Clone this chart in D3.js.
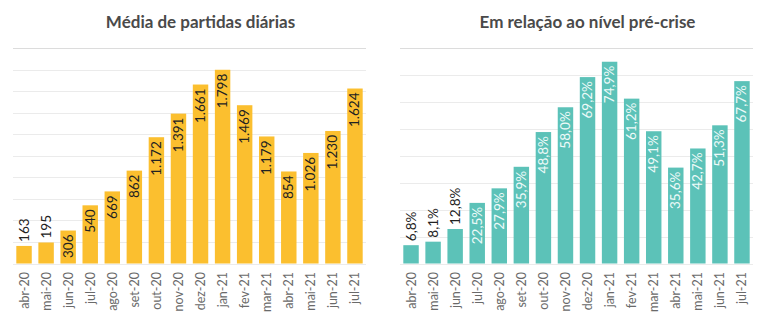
<!DOCTYPE html>
<html>
<head>
<meta charset="utf-8">
<script src="https://cdn.jsdelivr.net/npm/d3@7"></script>
<style>
  body { margin: 0; background: #fff; }
  svg { display: block; }
</style>
</head>
<body>
<div id="chart"></div>
<script>
const months = ['abr-20','mai-20','jun-20','jul-20','ago-20','set-20','out-20','nov-20',
                'dez-20','jan-21','fev-21','mar-21','abr-21','mai-21','jun-21','jul-21']
const dailyMatches = [163,195,306,540,669,862,1172,1391,1661,1798,1469,1179,854,1026,1230,1624]
const preCrisisPct = [6.8,8.1,12.8,22.5,27.9,35.9,48.8,58.0,69.2,74.9,61.2,49.1,35.6,42.7,51.3,67.7]

const W = 768, H = 326
const FONT = 'Lato, "Noto Sans", sans-serif'

const svg = d3.select('#chart').append('svg')
  .attr('width', W).attr('height', H)

// one small bar panel
function panel(opt)
{
  const g = svg.append('g')
  const top = 48, bottom = 263.5

  const x = d3.scaleBand().domain(months)
    .range([opt.x0, opt.x1]).paddingInner(0.3).paddingOuter(0.15)
  const y = d3.scaleLinear().domain([0, opt.max]).range([bottom, top])

  g.append('text')
    .attr('x', (opt.x0 + opt.x1)/2 + 11).attr('y', 28)
    .attr('text-anchor', 'middle')
    .attr('font-family', FONT).attr('font-weight', 'bold')
    .attr('font-size', 17).attr('fill', '#4a4a4a')
    .text(opt.title)

  // gridlines
  g.selectAll('.grid').data(d3.range(0, opt.max + opt.step/2, opt.step))
    .enter().append('line')
    .attr('x1', opt.x0).attr('x2', opt.x1)
    .attr('y1', d => Math.round(y(d)) + 0.5).attr('y2', d => Math.round(y(d)) + 0.5)
    .attr('stroke', d => d == opt.max ? '#dcdcdc' : '#ebebeb')

  g.selectAll('.bar').data(opt.values)
    .enter().append('rect')
    .attr('x', (d,i) => x(months[i]))
    .attr('width', x.bandwidth())
    .attr('y', d => y(d))
    .attr('height', d => bottom - y(d))
    .attr('fill', opt.color)

  // value labels, inside the bar when it is tall enough
  g.selectAll('.val').data(opt.values)
    .enter().append('text')
    .attr('transform', (d,i) => {
      const cx = x(months[i]) + x.bandwidth()/2
      const inside = d >= opt.insideFrom
      const yy = inside ? y(d) + 4 : y(d) - 4
      return 'translate(' + (cx + 4.5) + ',' + yy + ') rotate(-90)'
    })
    .attr('text-anchor', d => d >= opt.insideFrom ? 'end' : 'start')
    .attr('font-family', FONT).attr('font-size', 13.5)
    .attr('fill', d => d >= opt.insideFrom ? opt.insideColor : '#222')
    .text(opt.format)

  // month labels
  g.selectAll('.month').data(months)
    .enter().append('text')
    .attr('transform', d => 'translate(' + (x(d) + x.bandwidth()/2 + 4.5) + ',' + 272 + ') rotate(-90)')
    .attr('text-anchor', 'end')
    .attr('font-family', FONT).attr('font-size', 12.5)
    .attr('fill', '#6a6a6a')
    .text(d => d)
}

panel({
  title: 'Média de partidas diárias',
  x0: 13, x1: 366, max: 2000, step: 200,
  values: dailyMatches, color: '#FBBF2F',
  insideFrom: 300, insideColor: '#222',
  format: d => d3.format(',')(d).replace(',', '.')
})

panel({
  title: 'Em relação ao nível pré-crise',
  x0: 400, x1: 753, max: 80, step: 10,
  values: preCrisisPct, color: '#5CC2B8',
  insideFrom: 20, insideColor: '#eefaf8',
  format: d => d.toFixed(1).replace('.', ',') + '%'
})
</script>
</body>
</html>
